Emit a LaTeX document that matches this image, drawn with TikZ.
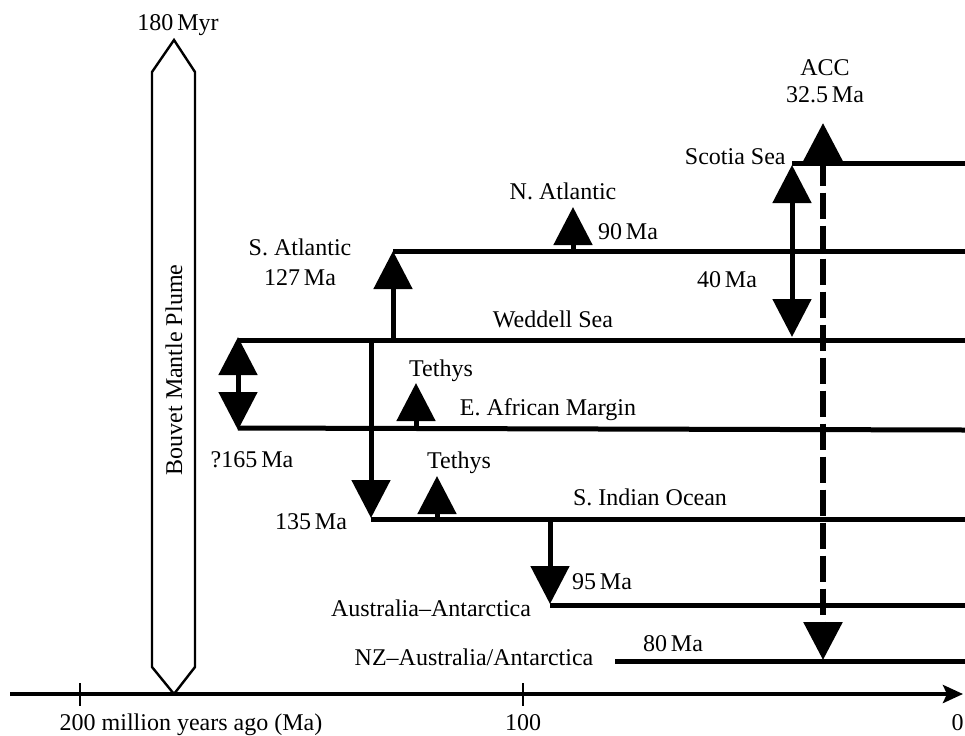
\documentclass[tikz,border=0pt]{standalone}
\usepackage{fontspec}
\setmainfont{Liberation Serif}
\usetikzlibrary{arrows.meta}
\begin{document}
\begin{tikzpicture}[x=0.5pt,y=-0.5pt,
  lbl/.style={font=\fontsize{12}{14}\selectfont, inner sep=0pt, anchor=base},
  tl/.style={line width=2.5pt},
  arr/.style={line width=2.5pt, -{Triangle[width=19pt,length=19pt]}},
  darr/.style={line width=2.5pt, {Triangle[width=19pt,length=19pt]}-{Triangle[width=19pt,length=19pt]}},
  axisarr/.style={line width=2pt, -{Stealth[length=10pt,width=9pt,inset=2pt]}},
  tick/.style={line width=1pt}]
\useasboundingbox (0,0) rectangle (965,735);
% axis
\coordinate (ax0) at (10,694);
\coordinate (ax1) at (963,694);
\draw[axisarr] (ax0) -- (ax1);
\coordinate (t200a) at (80,683); \coordinate (t200b) at (80,706);
\coordinate (t100a) at (523,683); \coordinate (t100b) at (523,706);
\draw[tick] (t200a) -- (t200b);
\draw[tick] (t100a) -- (t100b);
\node[lbl] (l200) at (191,730) {200 million years ago (Ma)};
\node[lbl] (l100) at (523,730) {100};
\node[lbl, anchor=base east] (l0) at (964,730) {0};
% plume
\draw[line width=1.2pt, fill=white] (152,72) -- (174,40) -- (195,72) -- (195,667) -- (174,694) -- (152,667) -- cycle;
\node[lbl] (myr) at (178,30) {180\,Myr};
\node[font=\fontsize{12}{14}\selectfont, inner sep=0pt, rotate=90] (plume) at (174,370) {Bouvet Mantle Plume};
% timelines
\coordinate (sco0) at (792,163); \coordinate (sco1) at (965,163);
\coordinate (nat0) at (393,251); \coordinate (nat1) at (965,251);
\coordinate (wed0) at (238,340); \coordinate (wed1) at (965,340);
\coordinate (eaf0) at (238,428); \coordinate (eaf1) at (965,430);
\coordinate (sio0) at (371,519); \coordinate (sio1) at (965,519);
\coordinate (aus0) at (550,605); \coordinate (aus1) at (965,605);
\coordinate (nz0) at (615,661); \coordinate (nz1) at (965,661);
\draw[tl] (sco0) -- (sco1);
\draw[tl] (nat0) -- (nat1);
\draw[tl] (wed0) -- (wed1);
\draw[tl] (eaf0) -- (eaf1);
\draw[tl] (sio0) -- (sio1);
\draw[tl] (aus0) -- (aus1);
\draw[tl] (nz0) -- (nz1);
% arrows
\coordinate (sa0) at (393,340);
\draw[arr] (sa0) -- (nat0);
\coordinate (na0) at (573,251); \coordinate (na1) at (573,207);
\draw[arr] (na0) -- (na1);
\coordinate (d165a) at (238,337); \coordinate (d165b) at (238,430);
\draw[darr] (d165a) -- (d165b);
\coordinate (w135a) at (371,340); \coordinate (w135b) at (371,518);
\draw[arr] (w135a) -- (w135b);
\coordinate (te1a) at (416,428); \coordinate (te1b) at (416,383);
\draw[arr] (te1a) -- (te1b);
\coordinate (te2a) at (437,519); \coordinate (te2b) at (437,476);
\draw[arr] (te2a) -- (te2b);
\coordinate (a95a) at (550,519); \coordinate (a95b) at (550,604);
\draw[arr] (a95a) -- (a95b);
\coordinate (s40a) at (792,165); \coordinate (s40b) at (792,337);
\draw[darr] (s40a) -- (s40b);
\coordinate (acca) at (823,123); \coordinate (accb) at (823,660);
\draw[line width=3pt, dash pattern=on 13pt off 3.5pt,
  {Triangle[width=19pt,length=19pt]}-{Triangle[width=19pt,length=19pt]}] (acca) -- (accb);
% labels
\node[lbl] (acc) at (825,75) {ACC};
\node[lbl] (acc2) at (825,102) {32.5\,Ma};
\node[lbl, anchor=base east] (sco) at (786,164) {Scotia Sea};
\node[lbl] (nat) at (563,199) {N. Atlantic};
\node[lbl] (n90) at (628,239) {90\,Ma};
\node[lbl] (sat) at (300,255) {S. Atlantic};
\node[lbl] (s127) at (300,285) {127\,Ma};
\node[lbl] (s40) at (727,287) {40\,Ma};
\node[lbl] (wed) at (553,327) {Weddell Sea};
\node[lbl] (teth1) at (441,376) {Tethys};
\node[lbl] (eaf) at (548,415) {E. African Margin};
\node[lbl] (q165) at (252,467) {?165\,Ma};
\node[lbl] (teth2) at (459,468) {Tethys};
\node[lbl] (sio) at (650,505) {S. Indian Ocean};
\node[lbl] (m135) at (311,529) {135\,Ma};
\node[lbl] (m95) at (602,589) {95\,Ma};
\node[lbl] (aus) at (431,616) {Australia–Antarctica};
\node[lbl] (m80) at (673,651) {80\,Ma};
\node[lbl] (nz) at (474,665) {NZ–Australia/Antarctica};
\end{tikzpicture}
\end{document}
